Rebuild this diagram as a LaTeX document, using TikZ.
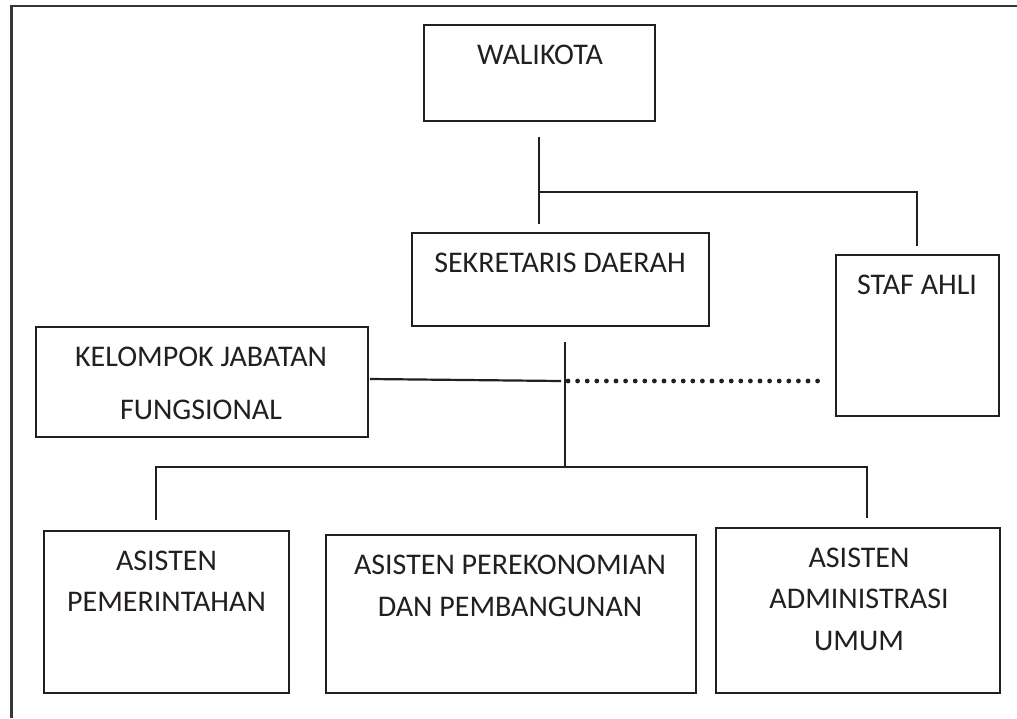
\documentclass[tikz,border=0pt]{standalone}
\usepackage{fontspec}
\setmainfont{Carlito}
\definecolor{ink}{HTML}{231F20}
\begin{document}
\begin{tikzpicture}[x=0.5pt, y=-0.5pt,
    every node/.style = {font=\fontsize{15}{20.75}\selectfont, text=ink, align=center, inner sep=0pt},
    box/.style = {shape=rectangle, draw=ink, line width=1.2pt},
    link/.style = {draw=ink, line width=1.1pt},
    dots/.style = {draw=ink, line width=2.4pt, line cap=round, dash pattern=on 0pt off 4.8pt},
    frame/.style = {draw=ink!90, line width=1.4pt}]
	\useasboundingbox (0,0) rectangle (1017,718);
	\draw[frame] (1017,6) -- (11.5,6) -- (11.5,718);
	% boxes
	\node[box, minimum width=115.5pt, minimum height=48pt] (wali) at (539.5,73) {};
	\node[box, minimum width=148.5pt, minimum height=46.5pt] (sekda) at (560.5,279.5) {};
	\node[box, minimum width=81.5pt, minimum height=80.5pt] (staf) at (917.5,335.5) {};
	\node[box, minimum width=166pt, minimum height=55pt] (kjf) at (202,382) {};
	\node[box, minimum width=122.5pt, minimum height=81pt] (apem) at (166.5,612) {};
	\node[box, minimum width=185pt, minimum height=79pt] (aeko) at (511,614) {};
	\node[box, minimum width=142pt, minimum height=82.5pt] (aadm) at (858,610.5) {};
	% texts
	\node (twali) at (540,55) {WALIKOTA};
	\node (tsekda) at (560,263) {SEKRETARIS DAERAH};
	\node (tstaf) at (917,284.5) {STAF AHLI};
	\node[font=\fontsize{15}{26.5}\selectfont] (tkjf) at (201,383.5) {KELOMPOK JABATAN\\FUNGSIONAL};
	\node (tapem) at (166.5,581.5) {ASISTEN\\PEMERINTAHAN};
	\node (taeko) at (510,586) {ASISTEN PEREKONOMIAN\\DAN PEMBANGUNAN};
	\node (taadm) at (859,599) {ASISTEN\\ADMINISTRASI\\UMUM};
	% connector points
	\coordinate (w1) at (539,137);
	\coordinate (w2) at (539,224);
	\coordinate (wm) at (539,192);
	\coordinate (wr) at (917,192);
	\coordinate (sa) at (917,246);
	\coordinate (s1) at (565,342);
	\coordinate (s2) at (565,467);
	\coordinate (k1) at (370,379);
	\coordinate (k2) at (561,381);
	\coordinate (d1) at (568,381);
	\coordinate (d2) at (818,381);
	\coordinate (h1) at (156,467);
	\coordinate (h3) at (867,467);
	\coordinate (a1) at (156,520);
	\coordinate (a3) at (867,518);
	% connectors
	\draw[link] (w1) -- (w2);
	\draw[link] (wm) -- (wr) -- (sa);
	\draw[link] (s1) -- (s2);
	\draw[link] (k1) -- (k2);
	\draw[dots] (d1) -- (d2);
	\draw[link] (a1) -- (h1) -- (h3) -- (a3);
\end{tikzpicture}
\end{document}
